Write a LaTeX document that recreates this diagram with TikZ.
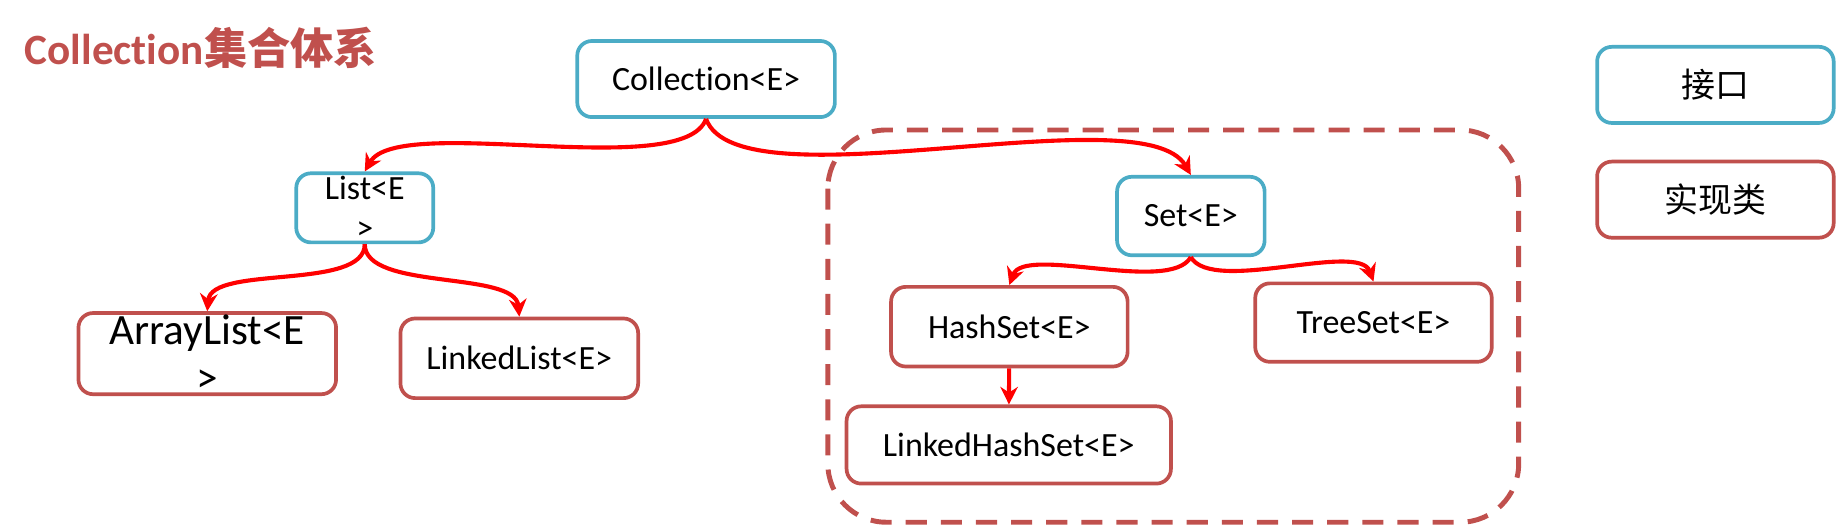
\documentclass[tikz,border=0pt]{standalone}
\usepackage{fontspec}
\setmainfont{Carlito}[Ligatures=NoCommon]
\newfontfamily\cjk{Noto Sans CJK SC}
\usetikzlibrary{arrows.meta, positioning}

\definecolor{ifblue}{HTML}{4BACC6}
\definecolor{clsred}{HTML}{C0504D}

\begin{document}
\begin{tikzpicture}[>={Stealth[length=3mm,width=3mm]},
        iface/.style={draw=ifblue,line width=1.8pt,rounded corners=2.5mm,fill=white,align=center},
        impl/.style={draw=clsred,line width=1.8pt,rounded corners=2.5mm,fill=white,align=center},
        link/.style={->,draw=red,line width=2pt},
        every node/.style={font=\fontsize{16.5}{19.5}\selectfont}]
      \useasboundingbox (0,0) rectangle (31.36,-8.98);
      % set group
      \draw[clsred,line width=2.4pt,dash pattern=on 3.6mm off 2.4mm,rounded corners=1cm]
        (14.14,-2.22) rectangle (25.94,-8.92);
      \node[anchor=west,text=clsred,font=\fontsize{21}{25}\selectfont\bfseries] (title) at (0.3,-0.82)
        {Collection{\cjk 集合体系}};
      \node[iface,minimum width=4.4cm,minimum height=1.3cm] (coll) at (12.06,-1.35) {Collection<E>};
      \node[iface,minimum width=2.34cm,minimum height=1.18cm,inner sep=1pt] (list) at (6.23,-3.55) {List<E\\>};
      \node[impl,minimum width=4.4cm,minimum height=1.36cm,inner sep=1pt,
            font=\fontsize{21}{23}\selectfont] (alist) at (3.54,-6.04) {ArrayList<E\\>};
      \node[impl,minimum width=4.06cm,minimum height=1.36cm] (llist) at (8.87,-6.12) {LinkedList<E>};
      \node[iface,minimum width=2.52cm,minimum height=1.34cm] (set) at (20.34,-3.69) {Set<E>};
      \node[impl,minimum width=4.04cm,minimum height=1.36cm] (hset) at (17.24,-5.58) {HashSet<E>};
      \node[impl,minimum width=4.04cm,minimum height=1.34cm] (tset) at (23.46,-5.51) {TreeSet<E>};
      \node[impl,minimum width=5.54cm,minimum height=1.32cm] (lhset) at (17.23,-7.60) {LinkedHashSet<E>};
      % legend
      \node[iface,minimum width=4.04cm,minimum height=1.3cm] (legif) at (29.30,-1.45) {\cjk 接口};
      \node[impl,minimum width=4.04cm,minimum height=1.3cm] (legcl) at (29.30,-3.41) {\cjk 实现类};
      \draw[link] (coll.south) to[out=-110,in=60,looseness=0.5] (list.north);
      \draw[link] (coll.south) to[out=-70,in=120,looseness=0.5] (set.north);
      \draw[link] (list.south) to[out=-90,in=85,looseness=0.7] (alist.north);
      \draw[link] (list.south) to[out=-90,in=95,looseness=0.7] (llist.north);
      \draw[link] (set.south) to[out=-120,in=70,looseness=0.6] (hset.north);
      \draw[link] (set.south) to[out=-60,in=110,looseness=0.6] (tset.north);
      \draw[link] (hset) -- (lhset);
    \end{tikzpicture}
\end{document}
